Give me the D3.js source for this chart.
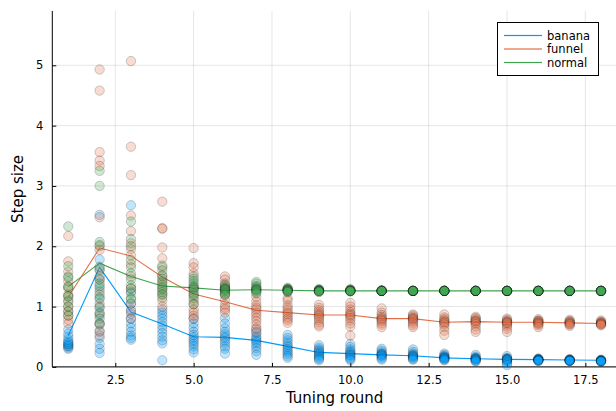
<!DOCTYPE html>
<html>
<head>
<meta charset="utf-8">
<script src="https://cdn.jsdelivr.net/npm/d3@7"></script>
<style>
  html, body { margin: 0; padding: 0; background: #fff; }
  svg { display: block; font-family: "DejaVu Sans", sans-serif; }
</style>
</head>
<body>
<svg id="chart" width="616" height="411"></svg>
<script>
// ---------------- data ----------------
const rounds = [1,2,3,4,5,6,7,8,9,10,11,12,13,14,15,16,17,18];
const seriesNames = ["banana", "funnel", "normal"];
const xTicks = [2.5, 5.0, 7.5, 10.0, 12.5, 15.0, 17.5];
const yTicks = [0, 1, 2, 3, 4, 5];

// mean lines
const bananaLine = [0.52,1.65,0.91,0.71,0.50,0.49,0.44,0.34,0.24,0.22,0.20,0.185,0.15,0.135,0.125,0.12,0.115,0.11];
const funnelLine = [1.16,1.97,1.84,1.49,1.21,1.08,0.94,0.90,0.86,0.86,0.80,0.80,0.74,0.75,0.74,0.74,0.73,0.72];
const normalLine = [1.33,1.72,1.50,1.34,1.31,1.27,1.28,1.27,1.26,1.26,1.26,1.26,1.26,1.26,1.26,1.26,1.26,1.26];

// individual runs per tuning round
const bananaPts = [
  [0.30,0.32,0.34,0.35,0.37,0.38,0.40,0.42,0.45,0.50,0.55,0.62],
  [2.52,1.78,1.62,1.45,1.30,1.15,0.98,0.85,0.72,0.58,0.48,0.38,0.30,0.23],
  [2.68,1.25,1.05,0.95,0.88,0.80,0.72,0.65,0.58,0.52,0.48,0.45],
  [0.95,0.90,0.85,0.80,0.74,0.68,0.62,0.56,0.50,0.44,0.39,0.11],
  [0.80,0.72,0.65,0.58,0.53,0.49,0.45,0.42,0.38,0.34,0.29,0.24],
  [0.81,0.72,0.64,0.58,0.54,0.50,0.47,0.43,0.39,0.34,0.30,0.22],
  [0.62,0.56,0.51,0.48,0.45,0.42,0.39,0.35,0.31,0.26,0.20],
  [0.53,0.48,0.44,0.40,0.36,0.33,0.30,0.27,0.24,0.21,0.18,0.15],
  [0.36,0.32,0.29,0.27,0.25,0.23,0.21,0.19,0.17,0.15,0.13,0.11],
  [0.38,0.33,0.29,0.26,0.24,0.22,0.20,0.19,0.17,0.15,0.13,0.11],
  [0.30,0.27,0.24,0.22,0.21,0.20,0.19,0.18,0.16,0.14,0.12],
  [0.29,0.25,0.22,0.20,0.19,0.18,0.17,0.16,0.15,0.13,0.12],
  [0.22,0.20,0.18,0.17,0.16,0.15,0.15,0.14,0.13,0.12,0.11],
  [0.20,0.17,0.15,0.14,0.14,0.13,0.13,0.12,0.11,0.10,0.09],
  [0.18,0.15,0.14,0.13,0.13,0.12,0.12,0.11,0.10,0.08,0.06,0.03],
  [0.14,0.13,0.13,0.12,0.12,0.12,0.11,0.11,0.11,0.10,0.10],
  [0.13,0.12,0.12,0.11,0.11,0.11,0.11,0.10,0.10,0.10,0.10],
  [0.12,0.11,0.11,0.11,0.10,0.10,0.10,0.10,0.09,0.09,0.09]
];
const funnelPts = [
  [2.17,1.75,1.58,1.42,1.30,1.20,1.10,1.00,0.92,0.85,0.78,0.72],
  [4.93,4.58,3.56,3.42,3.33,2.48,2.00,1.94,1.60,1.45,1.25,1.05,0.88,0.72,0.60,0.52],
  [5.07,3.65,3.18,2.51,2.25,2.05,1.95,1.85,1.70,1.50,1.30,1.05,0.92,0.80],
  [2.74,2.30,2.29,1.98,1.80,1.65,1.50,1.42,1.30,1.20,1.10,1.00],
  [1.97,1.72,1.65,1.55,1.30,1.20,1.10,1.04,0.95,0.90,0.85,0.80],
  [1.50,1.45,1.38,1.30,1.20,1.11,1.03,0.98,0.95,0.90],
  [1.16,1.08,1.02,0.98,0.95,0.90,0.86,0.81,0.76,0.70,0.64,0.58],
  [1.14,1.10,1.02,0.98,0.94,0.90,0.87,0.83,0.80,0.77,0.73],
  [1.03,0.98,0.94,0.91,0.88,0.86,0.84,0.81,0.78,0.74,0.70,0.67],
  [1.06,1.00,0.95,0.91,0.88,0.86,0.84,0.81,0.77,0.72,0.67,0.52],
  [0.97,0.90,0.86,0.83,0.81,0.79,0.78,0.76,0.73,0.70,0.66],
  [0.87,0.85,0.83,0.81,0.80,0.79,0.77,0.75,0.72,0.69,0.66],
  [0.87,0.82,0.79,0.77,0.75,0.74,0.72,0.70,0.66,0.60,0.53],
  [0.83,0.81,0.79,0.77,0.76,0.75,0.73,0.71,0.67,0.62,0.58],
  [0.80,0.78,0.76,0.75,0.74,0.73,0.72,0.70,0.67,0.63,0.58],
  [0.79,0.77,0.76,0.75,0.74,0.73,0.72,0.71,0.69,0.66],
  [0.78,0.76,0.75,0.74,0.73,0.72,0.71,0.70,0.68],
  [0.77,0.75,0.74,0.73,0.72,0.72,0.71,0.70,0.69]
];
const normalPts = [
  [2.33,1.67,1.50,1.48,1.33,1.33,1.17,1.17,1.08,1.00,0.92,0.85],
  [3.25,3.00,2.07,2.02,1.66,1.50,1.38,1.34,1.20,1.13,1.00,0.90,0.80,0.70],
  [2.41,2.12,2.00,1.77,1.65,1.55,1.45,1.35,1.30,1.22,1.14,1.12],
  [1.68,1.60,1.52,1.46,1.40,1.36,1.32,1.28,1.24,1.20,1.15],
  [1.50,1.46,1.42,1.38,1.34,1.32,1.30,1.27,1.22,1.18,1.14,1.04],
  [1.36,1.34,1.32,1.30,1.29,1.28,1.27,1.25,1.23,1.21,1.19],
  [1.41,1.38,1.34,1.32,1.30,1.29,1.28,1.27,1.26,1.24,1.22],
  [1.31,1.30,1.29,1.28,1.28,1.27,1.27,1.26,1.26,1.25,1.24],
  [1.29,1.28,1.27,1.27,1.27,1.26,1.26,1.26,1.26,1.25,1.24],
  [1.29,1.28,1.27,1.27,1.26,1.26,1.26,1.26,1.26,1.26,1.25],
  [1.27,1.26,1.26,1.26,1.26,1.26,1.26,1.26,1.26,1.26,1.26,1.26],
  [1.26,1.26,1.26,1.26,1.26,1.26,1.26,1.26,1.26,1.26,1.26,1.26],
  [1.26,1.26,1.26,1.26,1.26,1.26,1.26,1.26,1.26,1.26,1.26,1.26],
  [1.26,1.26,1.26,1.26,1.26,1.26,1.26,1.26,1.26,1.26,1.26,1.26],
  [1.26,1.26,1.26,1.26,1.26,1.26,1.26,1.26,1.26,1.26,1.26,1.26],
  [1.26,1.26,1.26,1.26,1.26,1.26,1.26,1.26,1.26,1.26,1.26,1.26],
  [1.26,1.26,1.26,1.26,1.26,1.26,1.26,1.26,1.26,1.26,1.26,1.26],
  [1.26,1.26,1.26,1.26,1.26,1.26,1.26,1.26,1.26,1.26,1.26,1.26]
];

// ---------------- drawing ----------------
(function () {
const colors = ["#009afa", "#e36f47", "#3ea44e"];
const lines = [bananaLine, funnelLine, normalLine];
const pts = [bananaPts, funnelPts, normalPts];

const svg = d3.select("#chart");
const pLeft = 52.3, pRight = 617, pTop = 11, pBottom = 366.9;
const x = d3.scaleLinear().domain([0.49, 18.51]).range([pLeft, pRight]);
const y = d3.scaleLinear().domain([0, 5.9]).range([pBottom, pTop]);

// grid
const grid = svg.append("g").attr("stroke", "#000").attr("stroke-opacity", 0.1).attr("stroke-width", 1);
xTicks.forEach(t => grid.append("line").attr("x1", x(t)).attr("x2", x(t)).attr("y1", pTop).attr("y2", pBottom));
yTicks.forEach(t => grid.append("line").attr("x1", pLeft).attr("x2", pRight).attr("y1", y(t)).attr("y2", y(t)));

// axes
const xAxis = d3.axisBottom(x).tickValues(xTicks).tickFormat(d3.format(".1f")).tickSizeInner(-4).tickSizeOuter(0).tickPadding(9);
const yAxis = d3.axisLeft(y).tickValues(yTicks).tickFormat(d3.format("d")).tickSizeInner(-4).tickSizeOuter(0).tickPadding(9);
const gx = svg.append("g").attr("transform", `translate(0,${pBottom})`).call(xAxis);
const gy = svg.append("g").attr("transform", `translate(${pLeft},0)`).call(yAxis);
[gx, gy].forEach(g => {
  g.select(".domain").attr("stroke", "#000").attr("stroke-width", 1);
  g.selectAll(".tick line").attr("stroke", "#000");
  g.selectAll(".tick text").attr("font-family", "DejaVu Sans").attr("font-size", "11.5px").attr("fill", "#000");
});
gx.select(".domain").attr("d", `M${pLeft},0H${pRight}`);
gy.select(".domain").attr("d", `M0,${pTop}V${pBottom}`);

// lines and points
const lineGen = d3.line().x((d, i) => x(rounds[i])).y(d => y(d));
seriesNames.forEach((name, s) => {
  svg.append("path").datum(lines[s]).attr("d", lineGen)
    .attr("fill", "none").attr("stroke", colors[s]).attr("stroke-width", 1.1);
});
seriesNames.forEach((name, s) => {
  const flat = [];
  pts[s].forEach((arr, i) => arr.forEach(v => flat.push({r: rounds[i], v})));
  svg.append("g").selectAll("circle").data(flat).join("circle")
    .attr("cx", d => x(d.r)).attr("cy", d => y(d.v)).attr("r", 4.7)
    .attr("fill", colors[s]).attr("fill-opacity", 0.25)
    .attr("stroke", "#000").attr("stroke-opacity", 0.18).attr("stroke-width", 1);
});

// axis labels
svg.append("text").attr("x", (pLeft + pRight) / 2).attr("y", 403).attr("text-anchor", "middle")
  .attr("font-size", "15px").text("Tuning round");
svg.append("text").attr("transform", `translate(23,${(pTop + pBottom) / 2}) rotate(-90)`).attr("text-anchor", "middle")
  .attr("font-size", "15px").text("Step size");

// legend
const lg = svg.append("g");
lg.append("rect").attr("x", 497.5).attr("y", 22.5).attr("width", 101).attr("height", 53)
  .attr("fill", "#fff").attr("stroke", "#000").attr("stroke-width", 1);
seriesNames.forEach((name, s) => {
  const ly = 35.5 + s * 13.5;
  lg.append("rect").attr("x", 504).attr("y", ly - 0.6).attr("width", 38).attr("height", 1.2)
    .attr("fill", colors[s]);
  lg.append("text").attr("x", 547).attr("y", ly + 4).attr("font-size", "11.5px").text(name);
});
})();
</script>
</body>
</html>
